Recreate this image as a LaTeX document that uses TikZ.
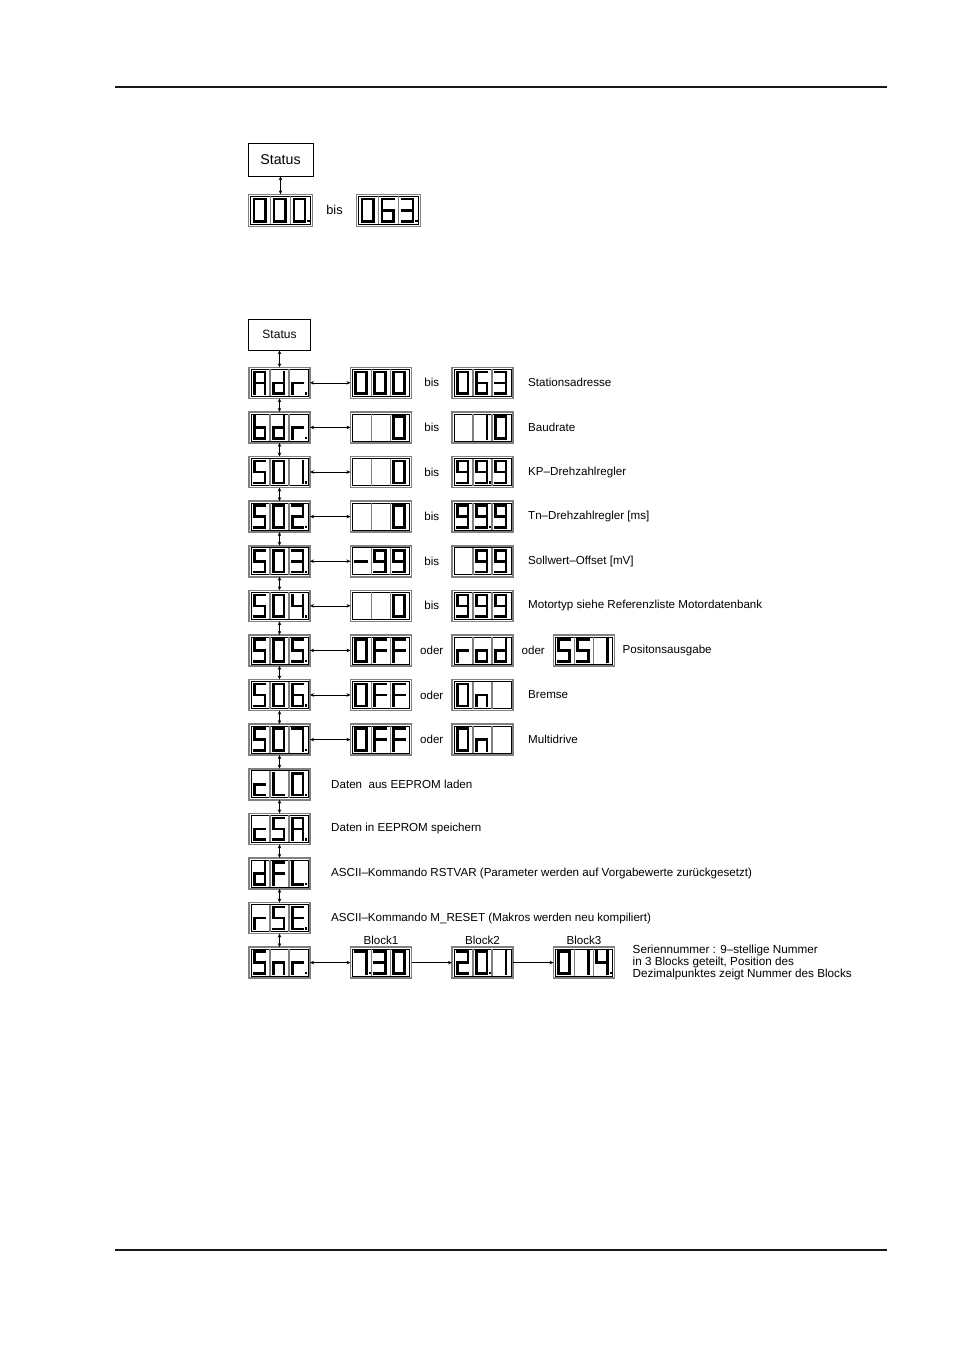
\documentclass[tikz,border=0pt]{standalone}
\usepackage{fontspec}
\setmainfont{Liberation Sans}
\usetikzlibrary{arrows.meta, positioning, calc}

\newcommand\sega{\draw[seg] (3.2,4.6) -- (14,4.6);}
\newcommand\segb{\draw[seg] (14,4.6) -- (14,15.5);}
\newcommand\segc{\draw[seg] (14,15.5) -- (14,26.4);}
\newcommand\segd{\draw[seg] (3.2,26.4) -- (14,26.4);}
\newcommand\sege{\draw[seg] (3.2,15.5) -- (3.2,26.4);}
\newcommand\segf{\draw[seg] (3.2,4.6) -- (3.2,15.5);}
\newcommand\segg{\draw[seg] (3.2,15.5) -- (14,15.5);}
\newcommand\segp{\fill (16,24.9) rectangle (18.2,27.2);}

\newcommand*\dgzero{a,b,c,d,e,f}
\newcommand*\dgone{b,c}
\newcommand*\dgtwo{a,b,d,e,g}
\newcommand*\dgthree{a,b,c,d,g}
\newcommand*\dgfour{b,c,f,g}
\newcommand*\dgfive{a,c,d,f,g}
\newcommand*\dgsix{a,c,d,e,f,g}
\newcommand*\dgseven{a,b,c}
\newcommand*\dgnine{a,b,c,d,f,g}
\newcommand*\dgA{a,b,c,e,f,g}
\newcommand*\dgb{c,d,e,f,g}
\newcommand*\dgc{d,e,g}
\newcommand*\dgd{b,c,d,e,g}
\newcommand*\dgE{a,d,e,f,g}
\newcommand*\dgF{a,e,f,g}
\newcommand*\dgL{d,e,f}
\newcommand*\dgn{c,e,g}
\newcommand*\dgo{c,d,e,g}
\newcommand*\dgr{e,g}
\newcommand*\dgminus{g}

\newcommand\digits[5][]{%
  \edef\seglist{{#3},{#4},{#5}}%
  \begin{scope}[shift={(#2.north west)}, #1]
    \draw[line width=0.5pt] (2,2) rectangle (59,29);
    \draw[cellsep] (21,2) -- (21,29) (40,2) -- (40,29);
    \foreach \segs [count=\i] in \seglist {
      \begin{scope}[shift={(19*\i-17,0)}]
        \foreach \s in \segs {\csname seg\s\endcsname}
      \end{scope}
    }
  \end{scope}}

\begin{document}
\begin{tikzpicture}[x=1pt, y=-1pt,
    node distance=13.6pt and 40.5pt,
    disp/.style={draw=black!50, line width=1.6pt, minimum width=61pt, minimum height=31pt, inner sep=0pt, outer sep=0pt},
    bigdisp/.style={disp, minimum width=64pt, minimum height=32pt},
    statusbox/.style={draw, line width=0.6pt, minimum width=62pt, minimum height=31pt, inner sep=0pt, font=\fontsize{12}{14}\selectfont},
    seg/.style={line width=2.6pt, line cap=rect},
    cellsep/.style={black!50, line width=1.1pt},
    txt/.style={inner sep=0pt, font=\fontsize{11.6}{13}\selectfont},
    note/.style={txt, align=left, font=\fontsize{11.7}{10}\selectfont},
    arrow/.style={{Stealth[length=4pt,width=3.5pt]}-{Stealth[length=4pt,width=3.5pt]}, line width=0.6pt},
    fwd/.style={-{Stealth[length=4pt,width=3.5pt]}, line width=0.6pt},
    rule/.style={line width=2pt, black!90}
]
\useasboundingbox (0,0) rectangle (954,1350);
\draw[rule] (115,87) -- (887,87);
\draw[rule] (115,1250) -- (887,1250);

\node[statusbox, minimum width=65pt, minimum height=33pt, font=\fontsize{14.2}{16}\selectfont] (status1) at (280.5,159.5) {Status};
\node[bigdisp, below=18pt of status1] (first) {};
\node[bigdisp, right=44pt of first] (last) {};
\node[txt, font=\fontsize{12.8}{14}\selectfont] (firstbis) at ($(first.east)!0.5!(last.west)$) {bis};
\digits[xscale=1.049, yscale=1.032]{first}{\dgzero}{\dgzero}{\dgzero,p}
\digits[xscale=1.049, yscale=1.032]{last}{\dgzero}{\dgsix}{\dgthree,p}
\draw[arrow] (status1.south) -- (first.north);

\node[statusbox] (status) at (279.5,334.5) {Status};
\node[disp, below=17pt of status] (adr) {};
\node[disp, below=of adr] (bdr) {};
\node[disp, below=of bdr] (s01) {};
\node[disp, below=of s01] (s02) {};
\node[disp, below=of s02] (s03) {};
\node[disp, below=of s03] (s04) {};
\node[disp, below=of s04] (s05) {};
\node[disp, below=of s05] (s06) {};
\node[disp, below=of s06] (s07) {};
\node[disp, below=of s07] (cl0) {};
\node[disp, below=of cl0] (csa) {};
\node[disp, below=of csa] (dfl) {};
\node[disp, below=of dfl] (rse) {};
\node[disp, below=of rse] (snr) {};

\foreach \row in {adr,bdr,s01,s02,s03,s04,s05,s06,s07} {
  \node[disp, right=of \row] (\row v1) {};
  \node[disp, right=of \row v1] (\row v2) {};
  \draw[arrow] (\row.east) -- (\row v1.west);
}
\node[disp, right=of s05v2] (s05v3) {};
\foreach \row in {adr,bdr,s01,s02,s03,s04}
  \node[txt] (\row bis) at ($(\row v1.east)!0.5!(\row v2.west)$) {bis};
\foreach \row in {s05,s06,s07}
  \node[txt] (\row oder) at ($(\row v1.east)!0.5!(\row v2.west)$) {oder};
\node[txt] (s05oder2) at ($(s05v2.east)!0.5!(s05v3.west)$) {oder};

\node[disp, right=of snr] (blk1) {};
\node[disp, right=of blk1] (blk2) {};
\node[disp, right=of blk2] (blk3) {};
\node[txt, above=2pt of blk1] (blk1lbl) {Block1};
\node[txt, above=2pt of blk2] (blk2lbl) {Block2};
\node[txt, above=2pt of blk3] (blk3lbl) {Block3};

\node[txt, right=15pt of adrv2, anchor=west] (adrtxt) {Stationsadresse};
\node[txt, right=15pt of bdrv2, anchor=west] (bdrtxt) {Baudrate};
\node[txt, right=15pt of s01v2, anchor=west] (s01txt) {KP–Drehzahlregler};
\node[txt, right=15pt of s02v2, anchor=west] (s02txt) {Tn–Drehzahlregler [ms]};
\node[txt, right=15pt of s03v2, anchor=west] (s03txt) {Sollwert–Offset [mV]};
\node[txt, right=15pt of s04v2, anchor=west] (s04txt) {Motortyp siehe Referenzliste Motordatenbank};
\node[txt, right=8pt of s05v3, anchor=west] (s05txt) {Positonsausgabe};
\node[txt, right=15pt of s06v2, anchor=west] (s06txt) {Bremse};
\node[txt, right=15pt of s07v2, anchor=west] (s07txt) {Multidrive};
\node[txt, right=21pt of cl0, anchor=west] (cl0txt) {Daten\ \ aus EEPROM laden};
\node[txt, right=21pt of csa, anchor=west] (csatxt) {Daten in EEPROM speichern};
\node[txt, right=21pt of dfl, anchor=west] (dfltxt) {ASCII–Kommando RSTVAR (Parameter werden auf Vorgabewerte zurückgesetzt)};
\node[txt, right=21pt of rse, anchor=west] (rsetxt) {ASCII–Kommando M\_RESET (Makros werden neu kompiliert)};
\node[note, right=18pt of blk3, anchor=west] (snrtxt) {Seriennummer : 9–stellige Nummer\\in 3 Blocks geteilt, Position des\\Dezimalpunktes zeigt Nummer des Blocks};

\foreach \a/\b in {status/adr, adr/bdr, bdr/s01, s01/s02, s02/s03, s03/s04, s04/s05, s05/s06, s06/s07, s07/cl0, cl0/csa, csa/dfl, dfl/rse, rse/snr}
  \draw[arrow] (\a.south) -- (\b.north);
\draw[arrow] (snr.east) -- (blk1.west);
\draw[fwd] (blk1.east) -- (blk2.west);
\draw[fwd] (blk2.east) -- (blk3.west);

\digits{adr}{\dgA}{\dgd}{\dgr,p}
\digits{adrv1}{\dgzero}{\dgzero}{\dgzero}
\digits{adrv2}{\dgzero}{\dgsix}{\dgthree}
\digits{bdr}{\dgb}{\dgd}{\dgr,p}
\digits{bdrv1}{}{}{\dgzero}
\digits{bdrv2}{}{\dgone}{\dgzero}
\digits{s01}{\dgfive}{\dgzero}{\dgone,p}
\digits{s01v1}{}{}{\dgzero}
\digits{s01v2}{\dgnine}{\dgnine,p}{\dgnine}
\digits{s02}{\dgfive}{\dgzero}{\dgtwo,p}
\digits{s02v1}{}{}{\dgzero}
\digits{s02v2}{\dgnine}{\dgnine,p}{\dgnine}
\digits{s03}{\dgfive}{\dgzero}{\dgthree,p}
\digits{s03v1}{\dgminus}{\dgnine}{\dgnine}
\digits{s03v2}{}{\dgnine}{\dgnine}
\digits{s04}{\dgfive}{\dgzero}{\dgfour,p}
\digits{s04v1}{}{}{\dgzero}
\digits{s04v2}{\dgnine}{\dgnine}{\dgnine}
\digits{s05}{\dgfive}{\dgzero}{\dgfive,p}
\digits{s05v1}{\dgzero}{\dgF}{\dgF}
\digits{s05v2}{\dgr}{\dgo}{\dgd}
\digits{s05v3}{\dgfive}{\dgfive}{\dgone}
\digits{s06}{\dgfive}{\dgzero}{\dgsix,p}
\digits{s06v1}{\dgzero}{\dgF}{\dgF}
\digits{s06v2}{\dgzero}{\dgn}{}
\digits{s07}{\dgfive}{\dgzero}{\dgseven,p}
\digits{s07v1}{\dgzero}{\dgF}{\dgF}
\digits{s07v2}{\dgzero}{\dgn}{}
\digits{cl0}{\dgc}{\dgL}{\dgzero,p}
\digits{csa}{\dgc}{\dgfive}{\dgA,p}
\digits{dfl}{\dgd}{\dgF}{\dgL,p}
\digits{rse}{\dgr}{\dgfive}{\dgE,p}
\digits{snr}{\dgfive}{\dgn}{\dgr,p}
\digits{blk1}{\dgseven,p}{\dgthree}{\dgzero}
\digits{blk2}{\dgtwo}{\dgzero,p}{\dgone}
\digits{blk3}{\dgzero}{\dgone}{\dgfour,p}
\end{tikzpicture}
\end{document}
